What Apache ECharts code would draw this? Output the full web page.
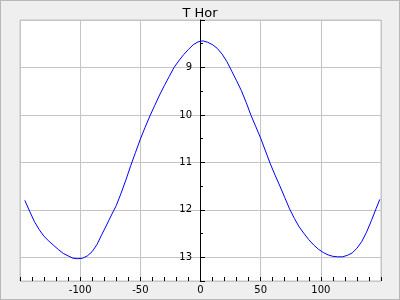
<!DOCTYPE html>
<html>
<head>
<meta charset="utf-8">
<script src="https://cdn.jsdelivr.net/npm/echarts@6/dist/echarts.min.js"></script>
<style>
html,body{margin:0;padding:0;background:#efefef;}
#c{position:absolute;left:0;top:0;width:400px;height:300px;}
#b{position:absolute;left:0;top:0;width:400px;height:300px;box-sizing:border-box;border:1px solid #b8b8b8;pointer-events:none;}
</style>
</head>
<body>
<div id="c"></div>
<div id="b"></div>
<script>
var title = "T Hor";
var phase = [-146,-142,-138,-134,-130,-126,-122,-118,-114,-110,-106,-102,-98,-94,-90,-86,-82,-78,-74,-70,-66,-62,-58,-54,-50,-46,-42,-38,-34,-30,-26,-22,-18,-14,-10,-6,-2,2,6,10,14,18,22,26,30,34,38,42,46,50,54,58,62,66,70,74,78,82,86,90,94,98,102,106,110,114,118,122,126,130,134,138,142,146,149];
var mag = [11.80,12.03,12.25,12.42,12.56,12.66,12.75,12.84,12.92,12.97,13.02,13.03,13.02,12.97,12.88,12.73,12.52,12.32,12.11,11.91,11.65,11.37,11.07,10.79,10.51,10.26,10.02,9.80,9.58,9.38,9.19,9.00,8.86,8.73,8.62,8.52,8.46,8.44,8.47,8.52,8.60,8.72,8.88,9.08,9.28,9.49,9.74,10.01,10.25,10.49,10.76,11.03,11.27,11.50,11.74,11.98,12.18,12.36,12.50,12.63,12.74,12.83,12.90,12.95,12.98,12.99,12.99,12.96,12.91,12.81,12.67,12.47,12.23,11.97,11.78];
var xTicks = [-100,-50,0,50,100];
var yTicks = [9,10,11,12,13];

var pts = phase.map(function(x,i){return [x, mag[i]];});
var chart = echarts.init(document.getElementById('c'), null, {renderer:'canvas'});
var font = 'DejaVu Sans';
chart.setOption({
  backgroundColor: '#efefef',
  animation: false,
  title: {text: title, left: 'center', top: 2, textStyle: {fontFamily: font, fontSize: 13, fontWeight: 'normal', color: '#000'}},
  grid: {left: 20, right: 19, top: 20, bottom: 19, containLabel: false, outerBoundsMode: 'none', show: true, backgroundColor: '#fff', borderColor: '#c4c4c4', borderWidth: 1},
  xAxis: {
    type: 'value', min: -150, max: 150, interval: 50,
    axisLine: {show: false},
    axisTick: {show: true, inside: true, length: 4, lineStyle: {color: '#000'}},
    minorTick: {show: true, splitNumber: 5, length: 4, lineStyle: {color: '#000'}},
    splitLine: {show: true, lineStyle: {color: '#c4c4c4', width: 1}},
    axisLabel: {margin: 4, fontFamily: font, fontSize: 10, color: '#000',
      formatter: function(v){ return xTicks.indexOf(v) >= 0 ? String(v) : ''; }}
  },
  yAxis: {
    type: 'value', min: 8, max: 13.5, interval: 1, inverse: true,
    position: 'left', offset: -180,
    axisLine: {show: true, onZero: false, lineStyle: {color: '#000', width: 1}},
    axisTick: {show: true, inside: true, length: 5, lineStyle: {color: '#000'}},
    minorTick: {show: true, splitNumber: 2, length: 3, lineStyle: {color: '#000'}},
    splitLine: {show: true, lineStyle: {color: '#c4c4c4', width: 1}},
    axisLabel: {margin: 8, fontFamily: font, fontSize: 10, color: '#000',
      formatter: function(v){ return yTicks.indexOf(v) >= 0 ? String(v) : ''; }}
  },
  series: [{
    type: 'line', data: pts, showSymbol: false, symbol: 'none',
    lineStyle: {color: '#0000ff', width: 1}, silent: true
  }]
});
</script>
</body>
</html>
